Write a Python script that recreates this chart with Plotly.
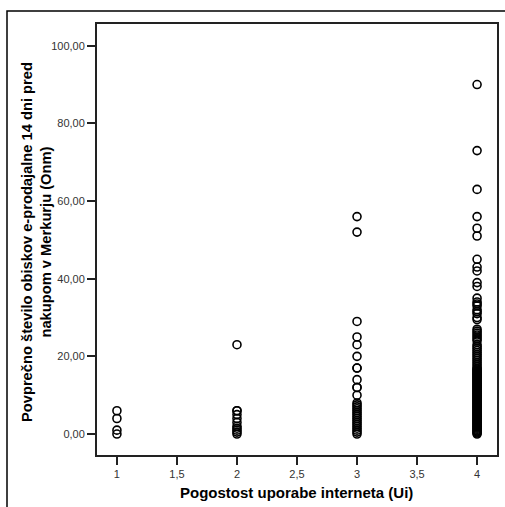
import plotly.graph_objects as go

# Data
ui_1 = [1, 1, 1, 1]
onm_1 = [6, 4, 1, 0]

ui_2 = [2] * 11
onm_2 = [23, 6, 6, 5, 4, 3, 2, 1.5, 1, 0.5, 0]

onm_3 = [56, 52, 29, 25, 23, 20, 17, 17, 14, 12, 12, 10, 8, 7.5, 7, 6.5, 6,
         5.5, 5, 4.5, 4, 3.5, 3, 2.5, 2, 1.5, 1, 0.5, 0]
ui_3 = [3] * len(onm_3)

onm_4 = [90, 73, 63, 56, 53, 51, 45, 43, 42, 39, 38, 35, 34, 33.5, 33, 32,
         31.5, 31, 30, 29.5, 27, 26.5, 26, 25.5, 25, 24.5, 24, 23, 22.5, 22,
         21.5, 21, 20.5, 20, 19.5, 19, 18.5, 18, 17.5, 17, 16.5, 16, 15.5, 15,
         14.5, 14, 13.5, 13, 12.5, 12, 11.5, 11, 10.5, 10, 9.5, 9, 8.5, 8, 7.5,
         7, 6.5, 6, 5.5, 5, 4.5, 4, 3.5, 3, 2.5, 2, 1.5, 1, 0.5, 0,
         16.75, 16.25, 15.75, 15.25, 14.75, 14.25, 13.75, 13.25, 12.75, 12.25,
         11.75, 11.25, 10.75, 10.25, 9.75, 9.25, 8.75, 8.25, 7.75, 7.25, 6.75,
         6.25, 5.75, 5.25, 4.75, 4.25, 3.75, 3.25, 2.75, 2.25, 1.75, 1.25,
         0.75, 0.25]
ui_4 = [4] * len(onm_4)

x_ticks = [1, 1.5, 2, 2.5, 3, 3.5, 4]
y_ticks = [0, 20, 40, 60, 80, 100]

x_title = "<b>Pogostost uporabe interneta (Ui)</b>"
y_title = "<b>Povprečno število obiskov e-prodajalne 14 dni pred<br>nakupom v Merkurju (Onm)</b>"

x_all = ui_1 + ui_2 + ui_3 + ui_4
y_all = onm_1 + onm_2 + onm_3 + onm_4

fig = go.Figure()
fig.add_trace(go.Scatter(
    x=x_all, y=y_all, mode="markers",
    marker=dict(symbol="circle-open", size=8, color="black",
                line=dict(width=1.6, color="black")),
    showlegend=False, hoverinfo="x+y",
))

W, H = 505, 507
L, R, T, B = 97, 8, 24, 52
pw = W - L - R
ph = H - T - B

def px_x(p):
    return (p - L) / pw

def px_y(p):
    return (H - B - p) / ph

fig.update_layout(
    width=W, height=H,
    margin=dict(l=L, r=R, t=T, b=B, autoexpand=False),
    paper_bgcolor="white", plot_bgcolor="white",
    separators=",.",
    font=dict(family="Liberation Sans, Arial, sans-serif", size=11, color="#333333"),
    xaxis=dict(
        range=[0.834, 4.166], tickvals=x_ticks, ticks="outside", ticklen=8,
        tickwidth=1.5, tickcolor="#222222", showgrid=False, zeroline=False,
        showline=True, linecolor="#222222", linewidth=2, mirror=True,
        tickfont=dict(size=11, color="#333333"), automargin=False,
    ),
    yaxis=dict(
        range=[-5.4, 105.6], tickvals=y_ticks, tickformat=".2f",
        ticks="outside", ticklen=8, tickwidth=1.5, tickcolor="#222222",
        showgrid=False, zeroline=False,
        showline=True, linecolor="#222222", linewidth=2, mirror=True,
        tickfont=dict(size=11, color="#333333"), automargin=False,
    ),
    annotations=[
        dict(text=x_title, xref="paper", yref="paper",
             x=px_x(296), y=px_y(492), xanchor="center", yanchor="middle",
             showarrow=False, font=dict(size=15, color="black")),
        dict(text=y_title, xref="paper", yref="paper", textangle=-90,
             x=px_x(36), y=px_y(242), xanchor="center", yanchor="middle",
             showarrow=False, font=dict(size=14.7, color="black")),
    ],
    shapes=[
        dict(type="rect", xref="paper", yref="paper",
             x0=px_x(7), x1=px_x(W + 20),
             y0=px_y(H + 20), y1=px_y(11),
             line=dict(color="black", width=1.5), layer="below"),
    ],
)

fig.write_html(
    "out.html",
    config={"displayModeBar": False},
    post_script="document.body.style.margin='0';document.body.style.overflow='hidden';",
)
